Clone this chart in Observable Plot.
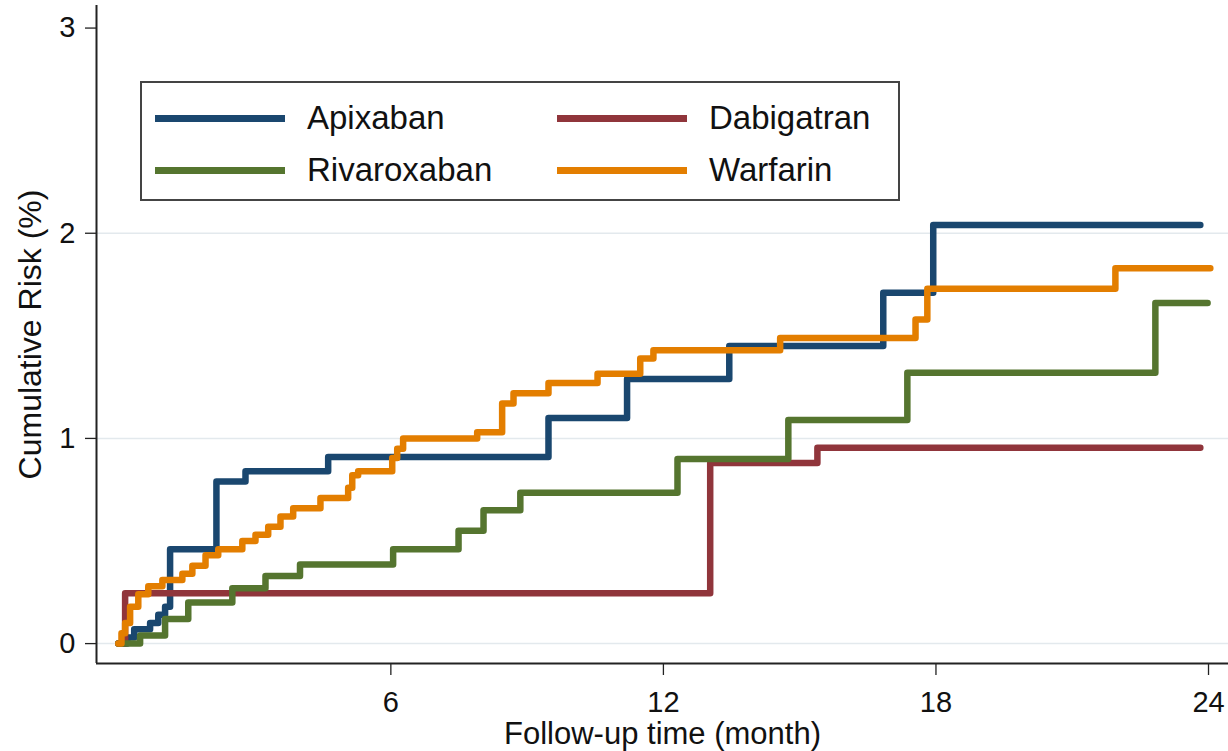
<!DOCTYPE html>
<html>
<head>
<meta charset="utf-8">
<script src="https://cdn.jsdelivr.net/npm/d3@7"></script>
<script src="https://cdn.jsdelivr.net/npm/@observablehq/plot@0.6"></script>
<style>
  html, body { margin: 0; padding: 0; background: #fff; }
  #wrap { position: relative; width: 1228px; height: 751px; font-family: "Liberation Sans", Arial, sans-serif; }
  #legend { position: absolute; left: 140px; top: 81px; width: 756px; height: 116px; border: 2px solid #444; background: #fff; box-sizing: content-box; }
  .item { position: absolute; display: flex; align-items: center; height: 40px; }
  .sw { width: 130px; height: 7px; margin-right: 22px; }
  .lab { font-size: 33px; color: #111; line-height: 40px; }
</style>
</head>
<body>
<div id="wrap"></div>
<script>
// ---- data ----
const drugs = ["Apixaban", "Dabigatran", "Rivaroxaban", "Warfarin"];
const colors = ["#1a476f", "#90353b", "#55752f", "#e37e00"];

const apixabanT    = [0, 0.2, 0.35, 0.7, 0.88, 1.03, 1.14, 2.16, 2.8, 4.62, 9.47, 11.2, 13.45, 16.84, 17.94, 23.82];
const apixabanRisk = [0, 0.03, 0.07, 0.1, 0.14, 0.18, 0.46, 0.79, 0.84, 0.91, 1.1, 1.29, 1.45, 1.71, 2.04, 2.04];

const dabigatranT    = [0, 0.15, 13.03, 15.39, 23.82];
const dabigatranRisk = [0, 0.245, 0.88, 0.955, 0.955];

const rivaroxabanT    = [0, 0.48, 1.03, 1.54, 2.51, 3.24, 4.0, 6.05, 7.49, 8.04, 8.85, 12.31, 14.75, 17.37, 22.83, 23.98];
const rivaroxabanRisk = [0, 0.04, 0.12, 0.2, 0.27, 0.33, 0.385, 0.46, 0.55, 0.65, 0.735, 0.9, 1.09, 1.32, 1.66, 1.66];

const warfarinT    = [0, 0.07, 0.15, 0.26, 0.44, 0.66, 0.97, 1.41, 1.63, 1.92, 2.2, 2.73, 3.02, 3.3, 3.57, 3.85, 4.45, 5.06, 5.15, 5.28, 6.03, 6.14, 6.27, 7.9, 8.45, 8.7, 9.47, 10.55, 11.49, 11.78, 14.57, 17.55, 17.81, 21.95, 24.04];
const warfarinRisk = [0, 0.05, 0.1, 0.18, 0.24, 0.28, 0.31, 0.34, 0.38, 0.43, 0.46, 0.5, 0.53, 0.57, 0.62, 0.66, 0.71, 0.76, 0.82, 0.84, 0.905, 0.95, 1.0, 1.03, 1.17, 1.22, 1.27, 1.315, 1.39, 1.43, 1.49, 1.58, 1.73, 1.83, 1.83];

const xTicks = [6, 12, 18, 24];
const yTicks = [0, 1, 2, 3];
const gridValues = [0, 1, 2];
const xDomain = [-0.48, 24.44];
const yDomain = [-0.097, 3.11];
const xTitle = "Follow-up time (month)";
const yTitle = "Cumulative Risk (%)";

// ---- build table ----
const seriesT = [apixabanT, dabigatranT, rivaroxabanT, warfarinT];
const seriesR = [apixabanRisk, dabigatranRisk, rivaroxabanRisk, warfarinRisk];
const rows = [];
drugs.forEach((d, i) => {
  seriesT[i].forEach((t, j) => rows.push({drug: d, t, risk: seriesR[i][j]}));
});

const font = "Liberation Sans, Arial, sans-serif";

const chart = Plot.plot({
  width: 1228,
  height: 751,
  marginLeft: 96,
  marginRight: 0,
  marginTop: 5,
  marginBottom: 88,
  style: {fontFamily: font, background: "#fff", color: "#111"},
  x: {domain: xDomain, axis: null},
  y: {domain: yDomain, axis: null},
  color: {domain: drugs, range: colors},
  marks: [
    Plot.ruleY(gridValues, {stroke: "#e3e9ed", strokeWidth: 1.5}),
    Plot.line(rows, {
      x: "t", y: "risk", z: "drug", stroke: "drug",
      curve: "step-after", strokeWidth: 6.5,
      strokeLinecap: "round", strokeLinejoin: "round"
    }),
    Plot.axisY(yTicks, {
      tickSize: 11, tickPadding: 10, fontSize: 29, stroke: "#222", strokeWidth: 1.3,
      label: null, tickFormat: d => String(d)
    }),
    Plot.axisX(xTicks, {
      tickSize: 12, tickPadding: 16, fontSize: 29, stroke: "#222", strokeWidth: 1.3,
      label: null, tickFormat: d => String(d)
    }),
    Plot.ruleX([xDomain[0]], {stroke: "#222", strokeWidth: 2}),
    Plot.ruleY([yDomain[0]], {stroke: "#222", strokeWidth: 2}),
    Plot.text([yTitle], {
      text: d => d, frameAnchor: "left", dx: -66, rotate: -90,
      fontSize: 32, fill: "#111", lineAnchor: "middle", textAnchor: "middle"
    }),
    Plot.text([xTitle], {
      text: d => d, frameAnchor: "bottom", dy: 71,
      fontSize: 31, fill: "#111", lineAnchor: "middle", textAnchor: "middle"
    })
  ]
});

const wrap = document.getElementById("wrap");
wrap.appendChild(chart);

// ---- legend (inside plot region) ----
const legend = document.createElement("div");
legend.id = "legend";
const itemPos = [
  {left: 13, top: 15},   // Apixaban
  {left: 415, top: 15},  // Dabigatran
  {left: 13, top: 67},   // Rivaroxaban
  {left: 415, top: 67}   // Warfarin
];
drugs.forEach((d, i) => {
  const it = document.createElement("div");
  it.className = "item";
  it.style.left = itemPos[i].left + "px";
  it.style.top = itemPos[i].top + "px";
  const sw = document.createElement("div");
  sw.className = "sw";
  sw.style.background = colors[i];
  const lab = document.createElement("span");
  lab.className = "lab";
  lab.textContent = d;
  it.appendChild(sw);
  it.appendChild(lab);
  legend.appendChild(it);
});
wrap.appendChild(legend);
</script>
</body>
</html>
